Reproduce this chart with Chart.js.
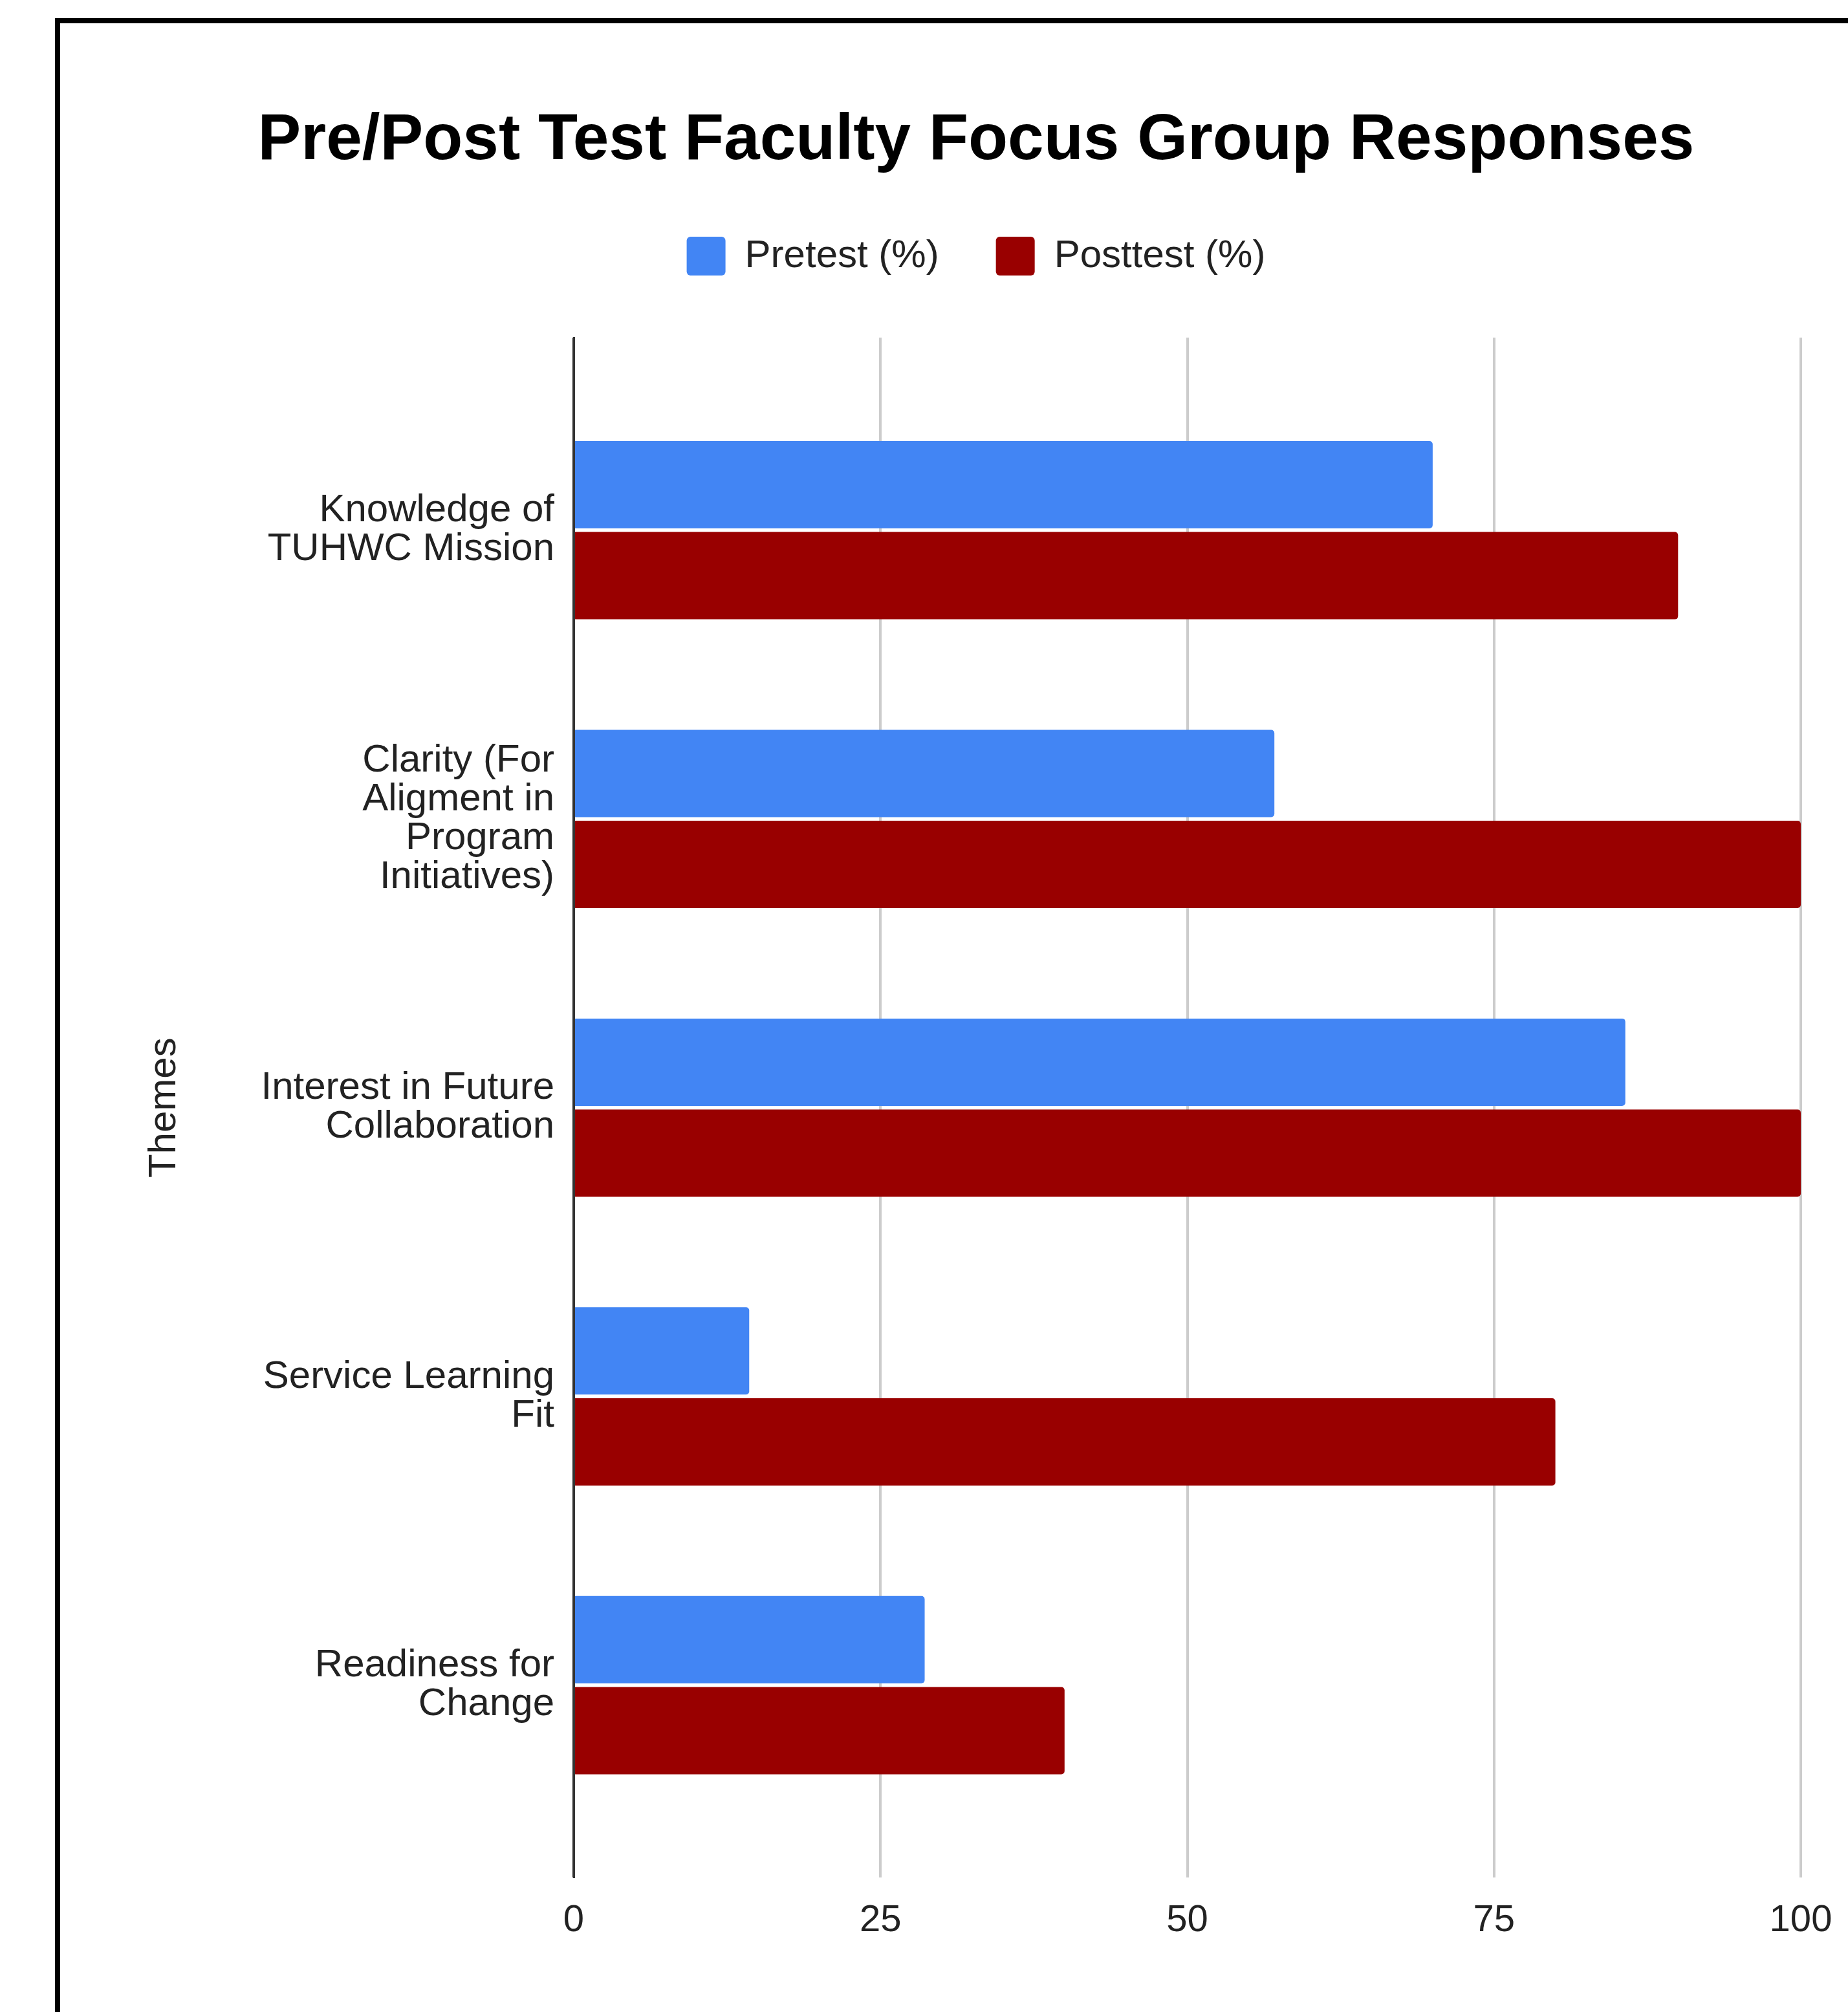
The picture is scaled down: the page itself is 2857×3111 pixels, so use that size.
<!DOCTYPE html>
<html lang="en">
<head>
    <meta charset="UTF-8">
    <title>Pre/Post Test Faculty Focus Group Responses</title>
    <script src="https://cdn.jsdelivr.net/npm/chart.js"></script>
    <style>
        html, body { margin: 0; padding: 0; background: #fff; overflow: hidden; }
        body { width: 2857px; height: 3111px; position: relative; }
        #frame {
            position: absolute;
            left: 85px;
            top: 28px;
            width: 3000px;
            height: 3200px;
            border-left: 8px solid #000;
            border-top: 8px solid #000;
        }
        #chart { position: absolute; left: 93px; top: 36px; }
    </style>
</head>
<body>
    <div id="frame"></div>
    <canvas id="chart" width="2832" height="3075" style="width:2832px;height:3075px"></canvas>

    <script>
        const themes = [
            ["Knowledge of", "TUHWC Mission"],
            ["Clarity (For", "Aligment in", "Program", "Initiatives)"],
            ["Interest in Future", "Collaboration"],
            ["Service Learning", "Fit"],
            ["Readiness for", "Change"]
        ];
        const pretest = [70, 57.1, 85.7, 14.3, 28.6];
        const posttest = [90, 100, 100, 80, 40];
        const xTicks = [0, 25, 50, 75, 100];

        const FONT = "'Liberation Sans', Arial, sans-serif";
        const TEXT = "#222222";

        // each theme sits at its index on a linear axis, so the Google-style
        // empty margin above the first and below the last group can be kept
        const toPoints = vals => vals.map((v, i) => ({ x: v, y: i }));

        new Chart(document.getElementById("chart"), {
            type: "bar",
            data: {
                datasets: [
                    {
                        label: "Pretest (%)",
                        data: toPoints(pretest),
                        backgroundColor: "#4285F4",
                        borderRadius: 5,
                        borderSkipped: "start",
                        categoryPercentage: 0.63,
                        barPercentage: 0.96
                    },
                    {
                        label: "Posttest (%)",
                        data: toPoints(posttest),
                        backgroundColor: "#990000",
                        borderRadius: 5,
                        borderSkipped: "start",
                        categoryPercentage: 0.63,
                        barPercentage: 0.96
                    }
                ]
            },
            options: {
                indexAxis: "y",
                responsive: false,
                animation: false,
                devicePixelRatio: 1,
                layout: { padding: { top: 0, left: 0, right: 0, bottom: 74 } },
                plugins: {
                    title: {
                        display: true,
                        text: "Pre/Post Test Faculty Focus Group Responses",
                        color: "#000",
                        font: { family: FONT, size: 100, weight: "bold" },
                        padding: { top: 122, bottom: 0 }
                    },
                    legend: {
                        position: "top",
                        labels: {
                            boxWidth: 60,
                            boxHeight: 60,
                            useBorderRadius: true,
                            borderRadius: 6,
                            padding: 88,
                            color: TEXT,
                            font: { family: FONT, size: 60 }
                        }
                    },
                    tooltip: { enabled: false }
                },
                scales: {
                    x: {
                        type: "linear",
                        position: "bottom",
                        min: 0,
                        max: 100,
                        afterBuildTicks: s => { s.ticks = xTicks.map(v => ({ value: v })); },
                        grid: {
                            color: c => (c.tick && c.tick.value === 0 ? "#333" : "#cccccc"),
                            lineWidth: 4,
                            drawTicks: false
                        },
                        border: { display: false },
                        ticks: {
                            padding: 32,
                            color: TEXT,
                            font: { family: FONT, size: 58 }
                        }
                    },
                    // empty band between the legend and the plot
                    x2: {
                        type: "linear",
                        position: "top",
                        grid: { display: false },
                        border: { display: false },
                        ticks: { display: false },
                        afterFit: s => { s.height = 86; }
                    },
                    y: {
                        type: "linear",
                        position: "left",
                        reverse: true,
                        offset: false,
                        min: -0.667,
                        max: 4.667,
                        afterBuildTicks: s => { s.ticks = themes.map((t, i) => ({ value: i })); },
                        afterFit: s => { s.width = 794; },
                        grid: { display: false, drawTicks: false },
                        border: { display: true, color: "#333", width: 3 },
                        ticks: {
                            padding: 30,
                            color: TEXT,
                            autoSkip: false,
                            font: { family: FONT, size: 60, lineHeight: 1.0 },
                            callback: v => themes[v]
                        },
                        title: {
                            display: true,
                            text: "Themes",
                            color: TEXT,
                            font: { family: FONT, size: 60 },
                            padding: { top: 125, bottom: 0 }
                        }
                    },
                    // keeps space right of the plot so title and legend centre like the original
                    y2: {
                        type: "linear",
                        position: "right",
                        grid: { display: false },
                        border: { display: false },
                        ticks: { display: false },
                        afterFit: s => { s.width = 141; }
                    }
                }
            }
        });
    </script>
</body>
</html>
